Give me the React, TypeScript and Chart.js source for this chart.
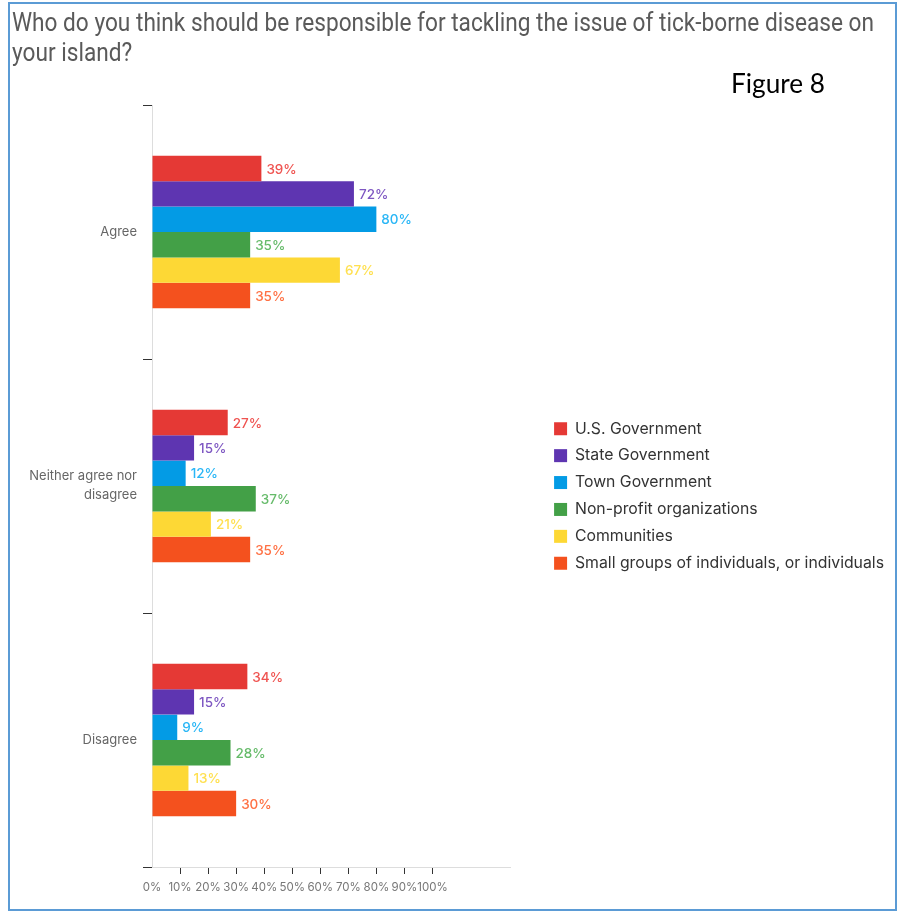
import React, { useEffect, useRef } from 'react';
import { Chart, registerables } from 'chart.js';

Chart.register(...registerables);

const titleLines = [
  'Who do you think should be responsible for tackling the issue of tick-borne disease on',
  'your island?',
];
const figureLabel = 'Figure 8';

const categories: (string | string[])[] = ['Agree', ['Neither agree nor', 'disagree'], 'Disagree'];

const seriesNames = [
  'U.S. Government',
  'State Government',
  'Town Government',
  'Non-profit organizations',
  'Communities',
  'Small groups of individuals, or individuals',
];

const usGovernment = [39, 27, 34];
const stateGovernment = [72, 15, 15];
const townGovernment = [80, 12, 9];
const nonProfit = [35, 37, 28];
const communities = [67, 21, 13];
const smallGroups = [35, 35, 30];

const xTickValues = [0, 10, 20, 30, 40, 50, 60, 70, 80, 90, 100];

const barColors = ['#E53935', '#5E35B1', '#039BE5', '#43A047', '#FDD835', '#F4511E'];
const labelColors = ['#EF5350', '#7E57C2', '#29B6F6', '#66BB6A', '#FFE04F', '#FF7043'];

const decorPlugin = {
  id: 'decor',
  beforeDraw(chart: any) {
    const ctx = chart.ctx;
    ctx.save();
    ctx.fillStyle = '#ffffff';
    ctx.fillRect(0, 0, chart.width, chart.height);
    ctx.strokeStyle = '#5B9BD5';
    ctx.lineWidth = 2;
    ctx.strokeRect(9, 3, 887, 907);
    ctx.font = '26px Roboto';
    ctx.fillStyle = '#5a5a5a';
    ctx.textBaseline = 'alphabetic';
    ctx.textAlign = 'left';
    const w = ctx.measureText(titleLines[0]).width;
    const sx = 862 / w;
    titleLines.forEach((line, i) => {
      ctx.save();
      ctx.translate(12, 31 + i * 29.5);
      ctx.scale(sx, 1);
      ctx.fillText(line, 0, 0);
      ctx.restore();
    });
    ctx.font = '26px Lato';
    ctx.fillStyle = '#000000';
    const fw = ctx.measureText(figureLabel).width;
    ctx.save();
    ctx.translate(731, 93);
    ctx.scale(94 / fw, 1);
    ctx.fillText(figureLabel, 0, 0);
    ctx.restore();
    ctx.restore();
  },
};

const valueLabelPlugin = {
  id: 'valueLabels',
  afterDatasetsDraw(chart: any) {
    const ctx = chart.ctx;
    ctx.save();
    ctx.font = '500 13.5px Inter';
    ctx.textBaseline = 'middle';
    ctx.textAlign = 'left';
    chart.data.datasets.forEach((ds: any, i: number) => {
      const meta = chart.getDatasetMeta(i);
      ctx.fillStyle = labelColors[i];
      meta.data.forEach((bar: any, j: number) => {
        ctx.fillText(ds.data[j] + '%', bar.x + 5, bar.y + 1);
      });
    });
    ctx.restore();
  },
};

export default function App() {
  const canvasRef = useRef<HTMLCanvasElement | null>(null);

  useEffect(() => {
    const canvas = canvasRef.current;
    if (!canvas) return;
    const seriesData = [usGovernment, stateGovernment, townGovernment, nonProfit, communities, smallGroups];
    const chart = new Chart(canvas, {
      type: 'bar',
      data: {
        labels: categories as any,
        datasets: seriesNames.map((name, i) => ({
          label: name,
          data: seriesData[i],
          backgroundColor: barColors[i],
          borderWidth: 0,
          barPercentage: 1,
          categoryPercentage: 0.6,
        })),
      },
      options: {
        indexAxis: 'y',
        responsive: false,
        animation: false,
        events: [],
        layout: { padding: { top: 105, left: 0, right: 5, bottom: 0 } },
        scales: {
          x: {
            type: 'linear',
            min: 0,
            max: 128,
            afterBuildTicks: (scale: any) => {
              scale.ticks = xTickValues.map((v) => ({ value: v }));
            },
            afterFit: (scale: any) => {
              scale.height = 46;
            },
            grid: {
              drawOnChartArea: false,
              drawTicks: true,
              tickLength: 7,
              tickColor: (ctx: any) => (ctx.tick && ctx.tick.value === 0 ? 'rgba(0,0,0,0)' : '#333333'),
            },
            border: { display: true, color: '#dddddd', width: 1 },
            ticks: {
              autoSkip: false,
              maxRotation: 0,
              padding: 7,
              color: '#777777',
              font: { family: 'Inter', size: 11.5 },
              callback: (v: any) => v + '%',
            },
          },
          y: {
            type: 'category',
            position: 'left',
            afterFit: (scale: any) => {
              scale.width = 152;
            },
            grid: {
              drawOnChartArea: false,
              drawTicks: true,
              tickLength: 9,
              tickColor: '#333333',
              offset: true,
            },
            border: { display: true, color: '#dddddd', width: 1 },
            ticks: {
              padding: 6,
              color: '#666666',
              font: { family: 'Inter', size: 13, lineHeight: 1.45 },
            },
          },
          gap: {
            type: 'category',
            position: 'right',
            grid: { display: false },
            border: { display: false },
            ticks: { display: false },
            afterFit: (scale: any) => {
              scale.width = 32;
            },
          },
        },
        plugins: {
          legend: {
            display: true,
            position: 'right',
            fullSize: false,
            maxWidth: 420,
            title: { display: true, text: '', font: { size: 10, lineHeight: 1.2 }, padding: 4 },
            labels: {
              boxWidth: 13,
              boxHeight: 13,
              padding: 11.1,
              color: '#333333',
              font: { family: 'Inter', size: 15.8 },
            },
          },
          tooltip: { enabled: false },
        },
      },
      plugins: [decorPlugin, valueLabelPlugin],
    } as any);
    return () => chart.destroy();
  }, []);

  return (
    <div style={{ position: 'absolute', left: 0, top: 0, width: 899, height: 913, background: '#fff' }}>
      <canvas ref={canvasRef} width={899} height={913} style={{ display: 'block', width: 899, height: 913 }} />
    </div>
  );
}
